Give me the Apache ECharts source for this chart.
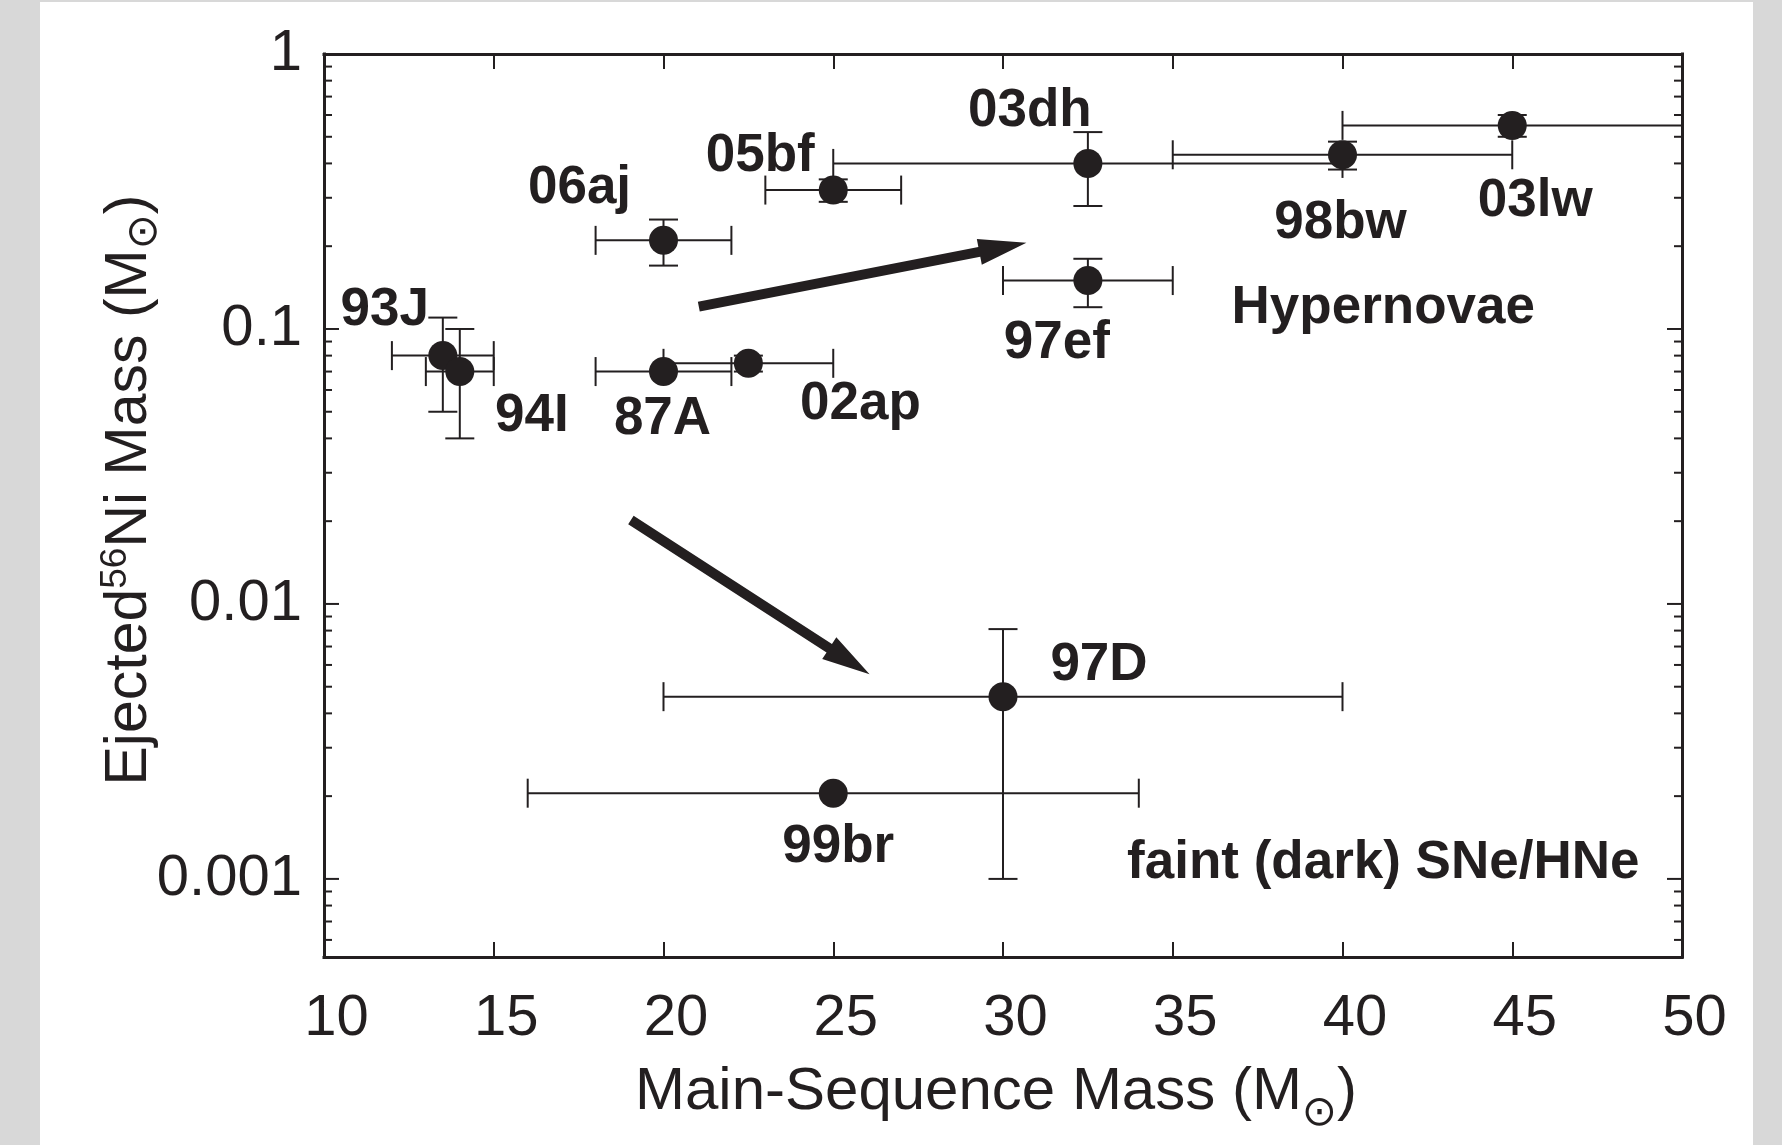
<!DOCTYPE html>
<html>
<head>
<meta charset="utf-8">
<script src="https://cdn.jsdelivr.net/npm/echarts@6/dist/echarts.min.js"></script>
<style>
  html, body { margin: 0; padding: 0; background: #d8d8d8; }
  #chart { width: 1782px; height: 1145px; }
</style>
</head>
<body>
<div id="chart"></div>
<script>
// Supernova sample: main-sequence mass vs ejected 56Ni mass
const names   = ['93J', '94I', '87A', '02ap', '06aj', '05bf', '03dh', '97ef', '98bw', '03lw', '97D', '99br'];
const mass    = [13.5, 14, 20, 22.5, 20, 25, 32.5, 32.5, 40, 45, 30, 25];
const massLo  = [12, 13, 18, 20, 18, 23, 25, 30, 35, 40, 20, 16];
const massHi  = [15, 15, 22, 25, 22, 27, 40, 35, 45, 50, 40, 34];
const niMass  = [0.08, 0.07, 0.07, 0.075, 0.21, 0.32, 0.40, 0.15, 0.43, 0.55, 0.0046, 0.00205];
const niLo    = [0.05, 0.04, null, 0.07, 0.17, 0.29, 0.28, 0.12, 0.38, 0.50, 0.001, null];
const niHi    = [0.11, 0.10, null, 0.08, 0.25, 0.35, 0.52, 0.18, 0.48, 0.60, 0.0081, null];

// Label placement relative to each point (px)
const labelDx = [-58, 72, -1, 112, -84, -73, -58, -31, -2, 23, 96, 5];
const labelDy = [-45, 45, 48, 41, -52, -34, -52, 63, 69, 76, -31, 54];

// Group captions, anchored in data units
const groupText = ['Hypernovae', 'faint (dark) SNe/HNe'];
const groupMass = [41.2, 41.2];
const groupNi   = [0.1191, 0.00114];

// Trend arrows (tail -> tip), data units
const arrowTailMass = [21.04, 19.04];
const arrowTailNi   = [0.1205, 0.0202];
const arrowTipMass  = [30.69, 26.07];
const arrowTipNi    = [0.206, 0.00555];

// Axis ticks
const xTickLabels = ['10', '15', '20', '25', '30', '35', '40', '45', '50'];
const yMajorTicks = [0.001, 0.01, 0.1, 1];
const yTickLabels = ['0.001', '0.01', '0.1', '1'];
const yMinorTicks = [0.0006, 0.0007, 0.0008, 0.0009,
                     0.002, 0.003, 0.004, 0.005, 0.006, 0.007, 0.008, 0.009,
                     0.02, 0.03, 0.04, 0.05, 0.06, 0.07, 0.08, 0.09,
                     0.2, 0.3, 0.4, 0.5, 0.6, 0.7, 0.8, 0.9];

const INK = '#231f20';
const TICK_FONT = 'Liberation Sans, Arial, sans-serif';
const LABEL_FONT = 'bold 53px "Liberation Sans", Arial, sans-serif';

const chart = echarts.init(document.getElementById('chart'), null, { renderer: 'canvas' });

function yLabel(v) {
  const e = Math.log10(v);
  if (Math.abs(e - Math.round(e)) > 1e-6) return '';
  const idx = yMajorTicks.findIndex(t => Math.abs(Math.log10(t) - e) < 1e-6);
  return idx >= 0 ? yTickLabels[idx] : '';
}

const axisLineStyle = { color: INK, width: 3, cap: 'square' };

const option = {
  backgroundColor: '#d8d8d8',
  animation: false,
  grid: { left: 324, top: 54, right: 100, bottom: 188, containLabel: false },
  xAxis: [
    {
      type: 'value', min: 10, max: 50, interval: 5, position: 'bottom',
      axisLine: { show: true, onZero: false, lineStyle: axisLineStyle },
      axisTick: { show: true, inside: true, length: 15, lineStyle: { color: INK, width: 2 } },
      axisLabel: {
        show: true, margin: 33, color: INK, fontSize: 58, fontFamily: TICK_FONT,
        padding: [0, 0, 0, 25],
        formatter: v => xTickLabels[Math.round((v - 10) / 5)] || ''
      },
      splitLine: { show: false }
    },
    {
      type: 'value', min: 10, max: 50, interval: 5, position: 'top',
      axisLine: { show: true, onZero: false, lineStyle: axisLineStyle },
      axisTick: { show: true, inside: true, length: 15, lineStyle: { color: INK, width: 2 } },
      axisLabel: { show: false },
      splitLine: { show: false }
    }
  ],
  yAxis: [
    {
      type: 'log', logBase: 10, min: 0.00052, max: 1, position: 'left',
      axisLine: { show: true, onZero: false, lineStyle: axisLineStyle },
      axisTick: { show: false },
      axisLabel: {
        show: true, margin: 22, color: INK, fontSize: 58, fontFamily: TICK_FONT,
        formatter: yLabel, showMinLabel: true, showMaxLabel: true
      },
      splitLine: { show: false }
    },
    {
      type: 'log', logBase: 10, min: 0.00052, max: 1, position: 'right',
      axisLine: { show: true, onZero: false, lineStyle: axisLineStyle },
      axisTick: { show: false },
      axisLabel: { show: false },
      splitLine: { show: false }
    }
  ],
  graphic: [
    {
      type: 'rect', z: -100, silent: true,
      shape: { x: 40, y: 2, width: 1713, height: 1143 },
      style: { fill: '#ffffff' }
    },
    {
      type: 'text', x: 996, y: 1092, silent: true,
      style: {
        text: '{a|Main-Sequence Mass (M}{sun|\u2299}{a|)}',
        align: 'center', verticalAlign: 'middle',
        rich: {
          a: { fontSize: 60, lineHeight: 100, fontFamily: TICK_FONT, fill: INK, verticalAlign: 'middle' },
          sun: { fontSize: 42, lineHeight: 40, padding: [51, 0, 0, 0], fontFamily: 'DejaVu Sans', fill: INK, verticalAlign: 'top' }
        }
      }
    },
    {
      type: 'text', x: 130, y: 490, rotation: Math.PI / 2, silent: true,
      style: {
        text: '{a|Ejected}{sup|56}{a|Ni Mass (M}{sun|\u2299}{a|)}',
        align: 'center', verticalAlign: 'middle',
        rich: {
          a: { fontSize: 59, lineHeight: 100, fontFamily: TICK_FONT, fill: INK, verticalAlign: 'middle' },
          sup: { fontSize: 37, lineHeight: 20, padding: [17, 0, 0, 0], fontFamily: TICK_FONT, fill: INK, verticalAlign: 'top' },
          sun: { fontSize: 42, lineHeight: 40, padding: [44, 0, 0, 0], fontFamily: 'DejaVu Sans', fill: INK, verticalAlign: 'top' }
        }
      }
    }
  ],
  series: [
    // Minor and major ticks on both log axes
    {
      type: 'custom', name: 'yTicks', xAxisIndex: 0, yAxisIndex: 0, silent: true, clip: false, z: 3,
      data: yMajorTicks.map(v => [10, v, 15]).concat(yMinorTicks.map(v => [10, v, 8])),
      renderItem: function (params, api) {
        const left = api.coord([10, api.value(1)]);
        const right = api.coord([50, api.value(1)]);
        const len = api.value(2);
        const st = { stroke: INK, lineWidth: 2 };
        return {
          type: 'group',
          children: [
            { type: 'line', shape: { x1: left[0], y1: left[1], x2: left[0] + len, y2: left[1] }, style: st },
            { type: 'line', shape: { x1: right[0], y1: right[1], x2: right[0] - len, y2: right[1] }, style: st }
          ]
        };
      }
    },
    // Error bars
    {
      type: 'custom', name: 'errors', xAxisIndex: 0, yAxisIndex: 0, silent: true, clip: true, z: 4,
      data: names.map((n, i) => [mass[i], niMass[i]]),
      renderItem: function (params, api) {
        const i = params.dataIndex;
        const cap = 14.5;
        const st = { stroke: INK, lineWidth: 2 };
        const children = [];
        const c = api.coord([mass[i], niMass[i]]);
        const xl = api.coord([massLo[i], niMass[i]]);
        const xh = api.coord([massHi[i], niMass[i]]);
        children.push({ type: 'line', shape: { x1: xl[0], y1: c[1], x2: xh[0], y2: c[1] }, style: st });
        children.push({ type: 'line', shape: { x1: xl[0], y1: c[1] - cap, x2: xl[0], y2: c[1] + cap }, style: st });
        children.push({ type: 'line', shape: { x1: xh[0], y1: c[1] - cap, x2: xh[0], y2: c[1] + cap }, style: st });
        if (niLo[i] != null && niHi[i] != null) {
          const yl = api.coord([mass[i], niLo[i]]);
          const yh = api.coord([mass[i], niHi[i]]);
          children.push({ type: 'line', shape: { x1: c[0], y1: yl[1], x2: c[0], y2: yh[1] }, style: st });
          children.push({ type: 'line', shape: { x1: c[0] - cap, y1: yl[1], x2: c[0] + cap, y2: yl[1] }, style: st });
          children.push({ type: 'line', shape: { x1: c[0] - cap, y1: yh[1], x2: c[0] + cap, y2: yh[1] }, style: st });
        }
        return { type: 'group', children: children };
      }
    },
    // Data points
    {
      type: 'scatter', name: 'SNe', xAxisIndex: 0, yAxisIndex: 0, z: 5,
      symbol: 'circle', symbolSize: 29,
      itemStyle: { color: INK, opacity: 1 },
      data: names.map((n, i) => [mass[i], niMass[i]])
    },
    // Point names
    {
      type: 'custom', name: 'names', xAxisIndex: 0, yAxisIndex: 0, silent: true, clip: false, z: 6,
      data: names.map((n, i) => [mass[i], niMass[i]]),
      renderItem: function (params, api) {
        const i = params.dataIndex;
        const c = api.coord([mass[i], niMass[i]]);
        return {
          type: 'text',
          x: c[0] + labelDx[i], y: c[1] + labelDy[i],
          style: { text: names[i], fill: INK, align: 'center', verticalAlign: 'middle', font: LABEL_FONT }
        };
      }
    },
    // Group captions
    {
      type: 'custom', name: 'groups', xAxisIndex: 0, yAxisIndex: 0, silent: true, clip: false, z: 6,
      data: groupText.map((t, i) => [groupMass[i], groupNi[i]]),
      renderItem: function (params, api) {
        const i = params.dataIndex;
        const c = api.coord([groupMass[i], groupNi[i]]);
        return {
          type: 'text', x: c[0], y: c[1],
          style: { text: groupText[i], fill: INK, align: 'center', verticalAlign: 'middle', font: LABEL_FONT }
        };
      }
    },
    // Trend arrows
    {
      type: 'custom', name: 'arrows', xAxisIndex: 0, yAxisIndex: 0, silent: true, clip: false, z: 6,
      data: arrowTailMass.map((m, i) => [m, arrowTailNi[i]]),
      renderItem: function (params, api) {
        const i = params.dataIndex;
        const p0 = api.coord([arrowTailMass[i], arrowTailNi[i]]);
        const p1 = api.coord([arrowTipMass[i], arrowTipNi[i]]);
        const dx = p1[0] - p0[0], dy = p1[1] - p0[1];
        const len = Math.sqrt(dx * dx + dy * dy);
        const ux = dx / len, uy = dy / len;
        const nx = -uy, ny = ux;
        const w = 5, headLen = 48, headHalf = 13;
        const bx = p1[0] - ux * headLen, by = p1[1] - uy * headLen;
        const pts = [
          [p0[0] + nx * w, p0[1] + ny * w],
          [bx + nx * w, by + ny * w],
          [bx + nx * headHalf, by + ny * headHalf],
          [p1[0], p1[1]],
          [bx - nx * headHalf, by - ny * headHalf],
          [bx - nx * w, by - ny * w],
          [p0[0] - nx * w, p0[1] - ny * w]
        ];
        return { type: 'polygon', shape: { points: pts }, style: { fill: INK } };
      }
    }
  ]
};

chart.setOption(option);
</script>
</body>
</html>
